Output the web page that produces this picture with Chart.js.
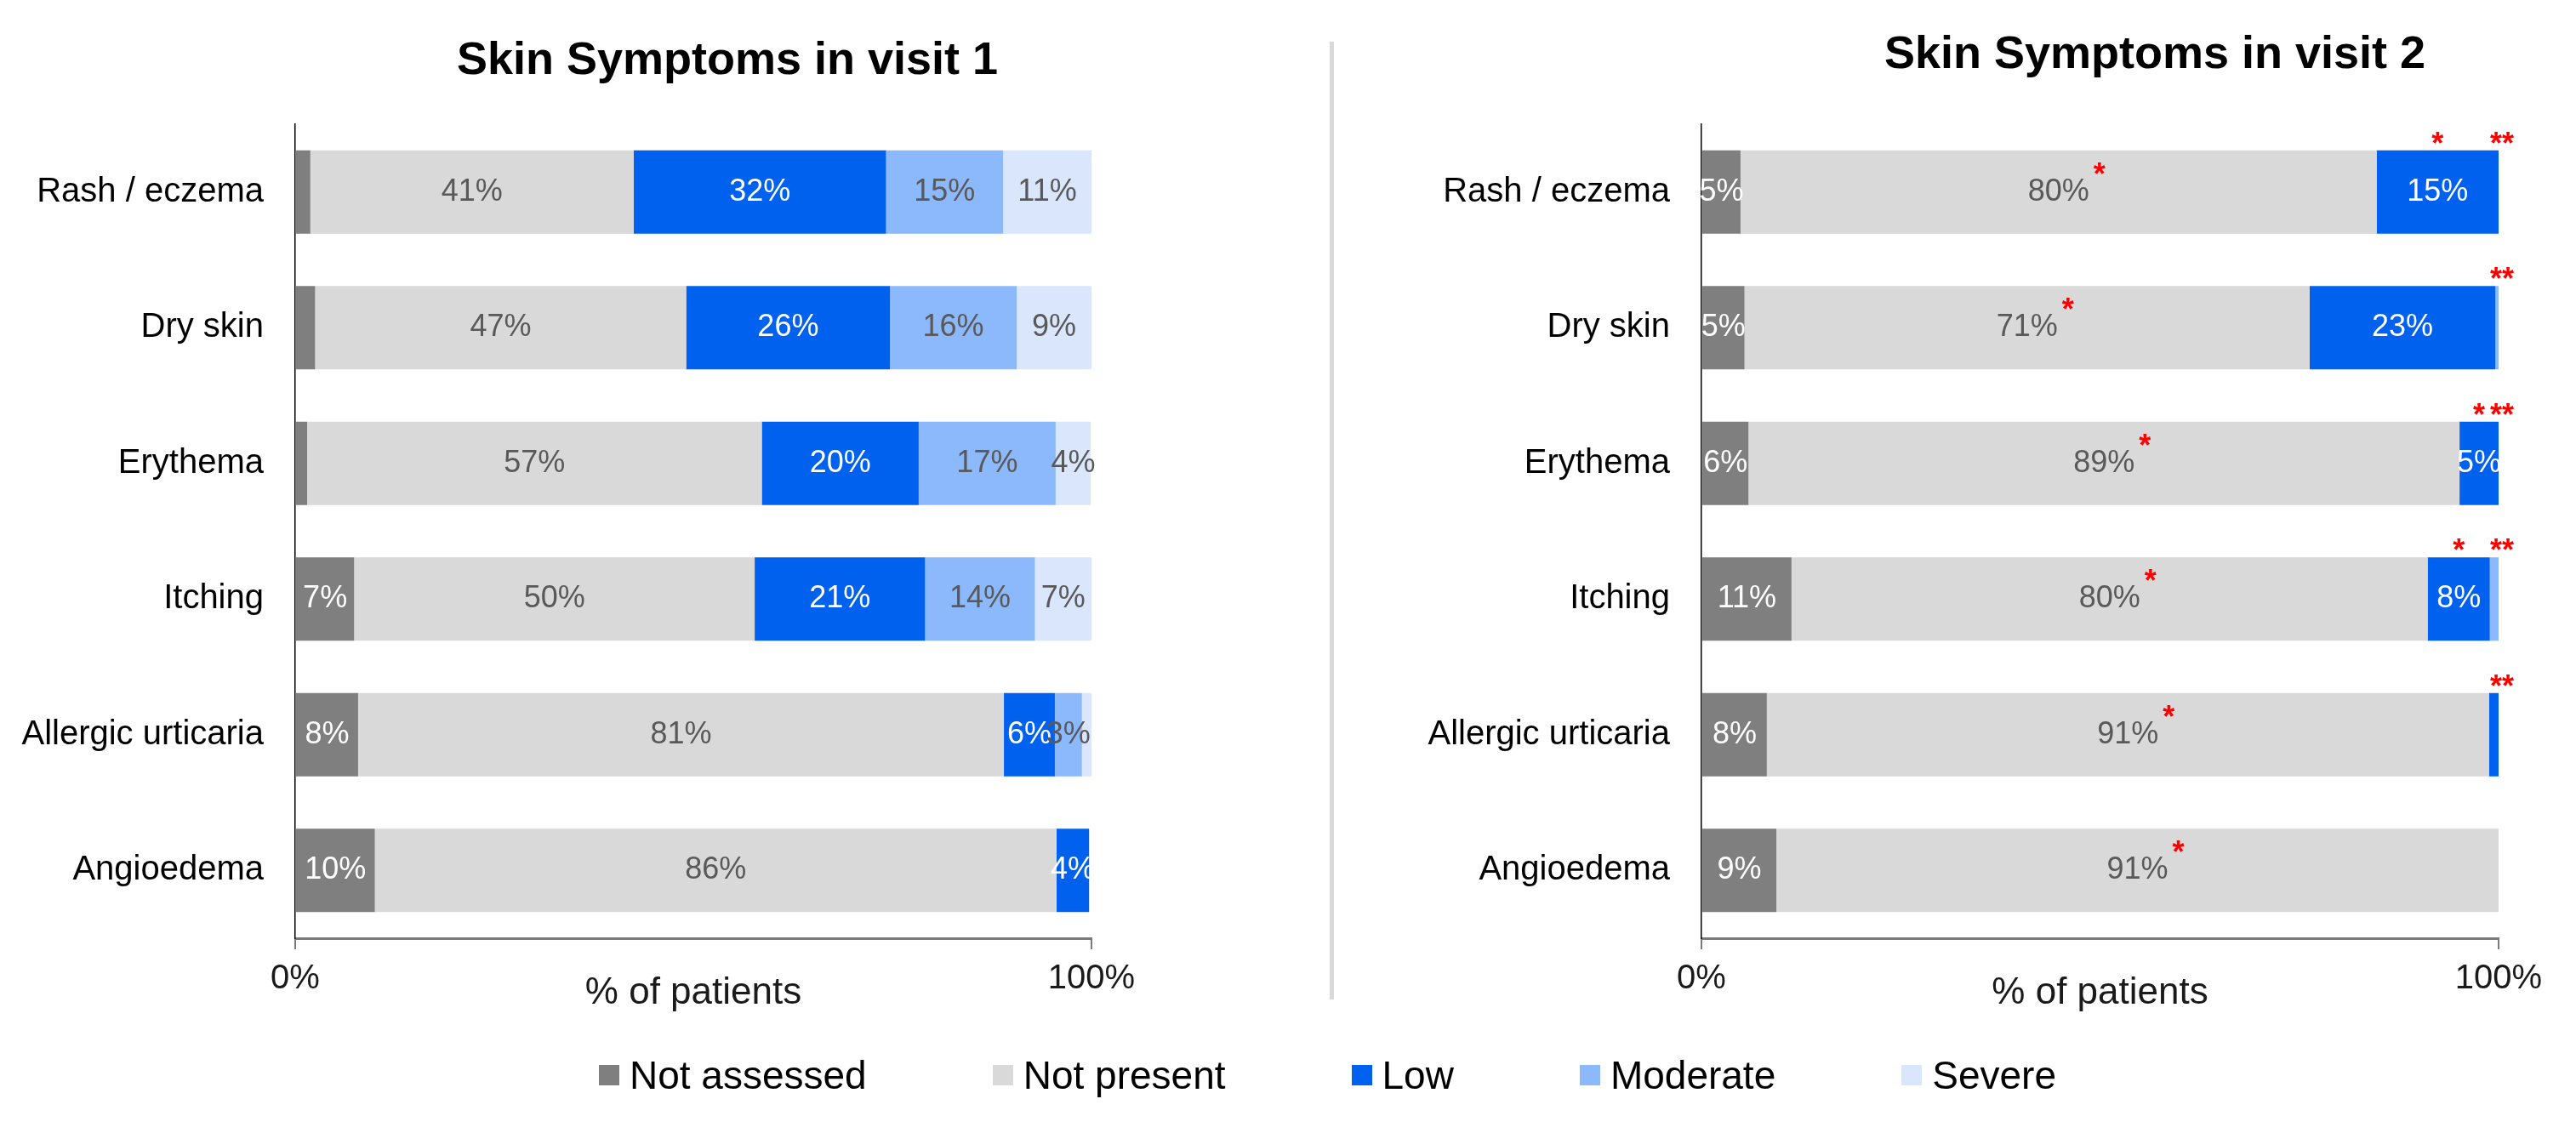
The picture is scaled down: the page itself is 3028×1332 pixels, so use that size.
<!DOCTYPE html>
<html>
<head>
<meta charset="utf-8">
<script src="https://cdn.jsdelivr.net/npm/chart.js@4.4.1/dist/chart.umd.min.js"></script>
<style>
html,body{margin:0;padding:0;background:#fff;overflow:hidden;width:3028px;height:1332px;}
#wrap{position:relative;width:3028px;height:1332px;overflow:hidden;background:#fff;}
canvas{position:absolute;top:0;}
#c1{left:0;}
#c2{left:1620px;}
#sep{position:absolute;left:1563px;top:49px;width:5px;height:1126px;background:#d9d9d9;}
#legend{position:absolute;left:704px;top:1234px;height:60px;display:flex;align-items:center;font-family:'Liberation Sans',Arial,sans-serif;font-size:46px;color:#000;white-space:nowrap;}
.item{display:flex;align-items:center;margin-right:148px;}
.box{width:24px;height:24px;margin-right:12px;}
</style>
</head>
<body>
<div id="wrap">
<canvas id="c1" width="1710" height="1332"></canvas>
<canvas id="c2" width="1826" height="1332"></canvas>
<div id="sep"></div>
<div id="legend"></div>
</div>
<script>
// ---------------- data ----------------
const categories = ['Rash / eczema', 'Dry skin', 'Erythema', 'Itching', 'Allergic urticaria', 'Angioedema'];
const seriesNames = ['Not assessed', 'Not present', 'Low', 'Moderate', 'Severe'];
const xTickValues = [0, 100];

const visit1NotAssessed = [1.9, 2.5, 1.5, 7.4, 7.9, 10.0];
const visit1NotPresent  = [40.6, 46.6, 57.1, 50.3, 81.1, 85.6];
const visit1Low         = [31.7, 25.6, 19.7, 21.4, 6.4, 4.1];
const visit1Moderate    = [14.7, 15.9, 17.2, 13.8, 3.4, 0];
const visit1Severe      = [11.1, 9.4, 4.4, 7.1, 1.2, 0];

const visit2NotAssessed = [4.9, 5.4, 5.9, 11.3, 8.2, 9.4];
const visit2NotPresent  = [79.8, 70.9, 89.2, 79.8, 90.6, 90.6];
const visit2Low         = [15.3, 23.3, 4.9, 7.8, 1.2, 0];
const visit2Moderate    = [0, 0.4, 0, 1.1, 0, 0];
const visit2Severe      = [0, 0, 0, 0, 0, 0];

// significance marks shown on visit 2
const visit2MarkNotPresent = ['*', '*', '*', '*', '*', '*'];
const visit2MarkLow        = ['*', '', '*', '*', '', ''];
const visit2MarkEnd        = ['**', '**', '**', '**', '**', ''];

// ---------------- styles ----------------
const seriesColors = ['#7f7f7f', '#d9d9d9', '#0061ee', '#8cb9fc', '#dae6fc'];
const labelColors  = ['#ffffff', '#595959', '#ffffff', '#595959', '#595959'];
const FONT = "'Liberation Sans', Arial, Helvetica, sans-serif";
Chart.defaults.font.family = FONT;

// legend (HTML)
const legendEl = document.getElementById('legend');
seriesNames.forEach((n, k) => {
  const it = document.createElement('div'); it.className = 'item';
  if (k === seriesNames.length - 1) it.style.marginRight = '0';
  const b = document.createElement('div'); b.className = 'box'; b.style.background = seriesColors[k];
  const t = document.createElement('span'); t.textContent = n;
  it.appendChild(b); it.appendChild(t); legendEl.appendChild(it);
});

function labelPlugin(id, marks) {
  return {
    id: id,
    afterDatasetsDraw(chart) {
      const ctx = chart.ctx;
      ctx.save();
      ctx.font = '36px ' + FONT;
      ctx.textAlign = 'center';
      ctx.textBaseline = 'middle';
      chart.data.datasets.forEach((ds, di) => {
        const meta = chart.getDatasetMeta(di);
        meta.data.forEach((bar, i) => {
          const v = ds.data[i];
          if (v < 3) return;
          ctx.fillStyle = ds.labelColor;
          ctx.fillText(Math.round(v) + '%', (bar.x + bar.base) / 2, bar.y);
        });
      });
      if (marks) {
        const npMeta = chart.getDatasetMeta(1);
        const lowMeta = chart.getDatasetMeta(2);
        const xEnd = chart.scales.x.getPixelForValue(100) + 4;
        const starSize = 36;
        const drawStar = (txt, cx, cy) => {
          if (!txt) return;
          ctx.save();
          ctx.font = 'bold ' + starSize + 'px ' + FONT;
          ctx.fillStyle = '#ff0000';
          ctx.textAlign = 'center';
          ctx.textBaseline = 'alphabetic';
          ctx.fillText(txt, cx, cy + starSize * 0.58);
          ctx.restore();
        };
        categories.forEach((c, i) => {
          const np = npMeta.data[i];
          const lab = Math.round(chart.data.datasets[1].data[i]) + '%';
          const w = ctx.measureText(lab).width;
          drawStar(marks.notPresent[i], (np.x + np.base) / 2 + w / 2 + 12, np.y - 30);
          const low = lowMeta.data[i];
          const topY = low.y - low.height / 2 - 17;
          drawStar(marks.low[i], (low.x + low.base) / 2, topY);
          drawStar(marks.end[i], xEnd, topY);
        });
      }
      ctx.restore();
    }
  };
}

function buildConfig(values, titleText, titlePad, yWidth, rightSpace, plugin) {
  return {
    type: 'bar',
    data: {
      labels: categories,
      datasets: seriesNames.map((n, k) => ({
        label: n,
        data: values[k],
        backgroundColor: seriesColors[k],
        labelColor: labelColors[k],
        borderWidth: 0,
        barPercentage: 0.614,
        categoryPercentage: 1
      }))
    },
    options: {
      indexAxis: 'y',
      responsive: false,
      animation: false,
      events: [],
      layout: { padding: 0 },
      plugins: {
        legend: { display: false },
        tooltip: { enabled: false },
        title: { display: true, text: titleText, color: '#000', font: { size: 54, weight: 'bold' }, padding: titlePad }
      },
      scales: {
        x: {
          stacked: true, min: 0, max: 100,
          afterBuildTicks: s => { s.ticks = xTickValues.map(v => ({ value: v })); },
          ticks: { callback: v => v + '%', color: '#1a1a1a', font: { size: 40 }, padding: 11, maxRotation: 0, autoSkip: false },
          grid: { drawOnChartArea: false, drawTicks: true, tickLength: 13, color: '#7a7a7a', lineWidth: 2 },
          border: { display: true, color: '#7a7a7a', width: 3 },
          title: { display: true, text: '% of patients', color: '#1a1a1a', font: { size: 44 }, padding: { top: 0, bottom: 138 } },
          afterFit: s => { s.height = 229; }
        },
        y: {
          stacked: true,
          ticks: { color: '#000', font: { size: 40 }, padding: 37, autoSkip: false },
          grid: { display: false, drawTicks: false },
          border: { display: true, color: '#000', width: 1.5 },
          afterFit: s => { s.width = yWidth; }
        },
        ySpace: {
          type: 'linear', axis: 'y', position: 'right', display: true,
          ticks: { display: false },
          grid: { display: false, drawTicks: false },
          border: { display: false },
          afterFit: s => { s.width = rightSpace; }
        }
      }
    },
    plugins: [plugin]
  };
}

new Chart(document.getElementById('c1'), buildConfig(
  [visit1NotAssessed, visit1NotPresent, visit1Low, visit1Moderate, visit1Severe],
  'Skin Symptoms in visit 1', { top: 39.6, bottom: 41.6 }, 347, 427, labelPlugin('lab1', null)));

new Chart(document.getElementById('c2'), buildConfig(
  [visit2NotAssessed, visit2NotPresent, visit2Low, visit2Moderate, visit2Severe],
  'Skin Symptoms in visit 2', { top: 32.6, bottom: 48.6 }, 380, 509,
  labelPlugin('lab2', { notPresent: visit2MarkNotPresent, low: visit2MarkLow, end: visit2MarkEnd })));
</script>
</body>
</html>
